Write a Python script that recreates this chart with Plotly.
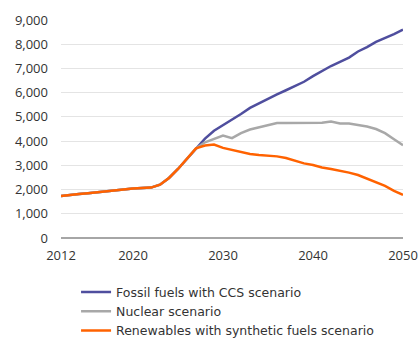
import plotly.graph_objects as go

years = list(range(2012, 2051))

# Shared history/near-term path up to 2027
common = [1730, 1790, 1820, 1850, 1890, 1940, 1980, 2010, 2040, 2060, 2080,
          2200, 2480, 2850, 3270, 3700]

fossil_ccs = common + [4100, 4430, 4650, 4870, 5120, 5370, 5560, 5760, 5930,
                       6100, 6260, 6450, 6680, 6900, 7100, 7270, 7450, 7700,
                       7880, 8100, 8250, 8420, 8600]

nuclear = common + [3950, 4080, 4230, 4120, 4330, 4480, 4580, 4680, 4750,
                    4750, 4750, 4750, 4750, 4760, 4810, 4730, 4730, 4680,
                    4600, 4500, 4330, 4080, 3830]

renewables = common + [3820, 3860, 3720, 3640, 3550, 3470, 3430, 3400, 3370,
                       3300, 3180, 3080, 3010, 2910, 2850, 2780, 2700, 2600,
                       2460, 2310, 2150, 1950, 1780]

series_names = ["Fossil fuels with CCS scenario", "Nuclear scenario",
                "Renewables with synthetic fuels scenario"]
series_values = [fossil_ccs, nuclear, renewables]
series_colors = ["#4F4E9E", "#A8A8A8", "#FF6200"]

x_ticks = [2012, 2020, 2030, 2040, 2050]
y_ticks = list(range(0, 9001, 1000))

fig = go.Figure()
for name, vals, col in zip(series_names, series_values, series_colors):
    fig.add_trace(go.Scatter(x=years, y=vals, mode="lines", name=name,
                             line=dict(color=col, width=2.5)))

font_family = "'Open Sans', 'Noto Sans', sans-serif"
legend_family = "'DejaVu Sans', 'Open Sans', sans-serif"
text_color = "#333333"

fig.update_layout(
    width=420, height=338,
    margin=dict(l=61, r=17, t=20, b=100, autoexpand=False),
    paper_bgcolor="white", plot_bgcolor="white",
    font=dict(family=font_family, size=12, color=text_color),
    showlegend=True,
    legend=dict(orientation="v", x=0.044, xanchor="left", y=-0.181,
                yanchor="top",
                font=dict(family=legend_family, size=12.5, color=text_color),
                tracegroupgap=0, itemwidth=30, bgcolor="rgba(0,0,0,0)"),
    xaxis=dict(range=[2012, 2050], tickvals=x_ticks, showgrid=False,
               zeroline=False, showline=False, ticks="", automargin=False,
               ticklabelstandoff=8,
               tickfont=dict(size=13, color=text_color)),
    yaxis=dict(range=[0, 9000], tickvals=y_ticks, tickformat=",",
               showgrid=True, gridcolor="#E4E4E4", gridwidth=1,
               zeroline=True, zerolinecolor="#A6A6A6", zerolinewidth=1.5,
               showline=False, ticks="", ticklabelstandoff=12,
               automargin=False,
               tickfont=dict(size=13, color=text_color)),
)

fig.write_html("out.html")
